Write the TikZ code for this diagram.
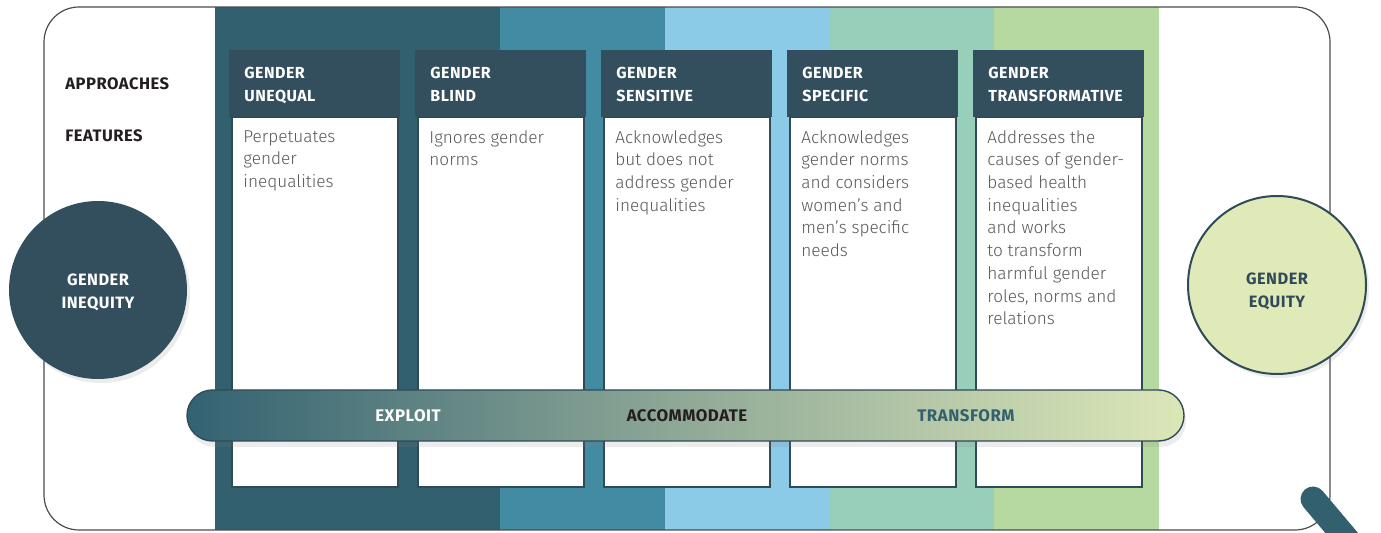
\documentclass[tikz,border=0pt]{standalone}
\usepackage{fontspec}
\setmainfont{Fira Sans}
\newfontfamily\headFont{Fira Sans}[LetterSpace=3]
\newfontfamily\featureFont{Fira Sans Light}
\usetikzlibrary{shadows}
\tikzstyle{pixelGrid} = [x = 0.5pt, y = -0.5pt]
\definecolor{bandDark}{RGB}{51,96,110}
\definecolor{bandTeal}{RGB}{67,139,163}
\definecolor{bandSky}{RGB}{139,203,231}
\definecolor{bandMint}{RGB}{152,207,186}
\definecolor{bandLeaf}{RGB}{182,217,160}
\definecolor{headerColor}{RGB}{51,78,92}
\definecolor{lineColor}{RGB}{47,75,88}
\definecolor{featureGray}{RGB}{88,89,91}
\definecolor{labelBlack}{RGB}{35,31,32}
\definecolor{equityFill}{RGB}{224,234,185}
\definecolor{barLeft}{RGB}{51,98,114}
\definecolor{barMid}{RGB}{144,169,151}
\definecolor{barRight}{RGB}{220,231,184}
\tikzstyle{frameStyle} = [draw=black!70, line width = .6pt, rounded corners = 17.5pt]
\tikzstyle{headerStyle} = [fill=headerColor]
\tikzstyle{featureBoxStyle} = [fill=white, draw=lineColor, line width = 1pt]
\tikzstyle{headerText} = [anchor=north west, inner sep=0, align=left, text=white, font=\headFont\bfseries\fontsize{8}{11.5}\selectfont]
\tikzstyle{featureText} = [anchor=north west, inner sep=0, align=left, text=featureGray, font=\featureFont\fontsize{8.6}{11.35}\selectfont]
\tikzstyle{rowLabel} = [anchor=west, inner sep=0, text=labelBlack, font=\headFont\bfseries\fontsize{8.3}{10}\selectfont]
\tikzstyle{stateCircle} = [circle, minimum size = 89pt, inner sep=0, drop shadow={shadow xshift=1.5pt, shadow yshift=-2pt, opacity=.15}]
\tikzstyle{circleText} = [inner sep=0, align=center, font=\headFont\bfseries\fontsize{8.2}{11.5}\selectfont]
\tikzstyle{barStyle} = [left color=barLeft, right color=barRight, middle color=barMid, draw=lineColor, line width = .7pt, rounded corners = 12.75pt, drop shadow={shadow xshift=1pt, shadow yshift=-3pt, opacity=.15}]
\tikzstyle{barText} = [inner sep=0, font=\headFont\bfseries\fontsize{8.4}{10}\selectfont]
\tikzstyle{handleStyle} = [draw=bandDark, line width = 12.5pt, line cap=round]
\newcommand{\approachColumn}[4]{
  \fill [headerStyle] (#2, 50) rectangle +(171, 67);
  \filldraw [featureBoxStyle] (#2 + 2.5, 117) rectangle (#2 + 169, 487);
  \node [headerText] (#1Header) at (#2 + 15, 67) {#3};
  \node [featureText] (#1Features) at (#2 + 14, 130) {#4};
}

\begin{document}
\begin{tikzpicture}[pixelGrid]
  \useasboundingbox (0,0) rectangle (1381,533);
  % frame and colour bands
  \fill [white, rounded corners = 17.5pt] (44,7) rectangle (1330,530);
  \foreach \bandColor/\from/\to in {bandDark/215/500, bandTeal/500/665, bandSky/665/830, bandMint/830/994, bandLeaf/994/1159} {
    \fill [\bandColor] (\from,7) rectangle (\to,530);
  }
  \draw [frameStyle] (44,7) rectangle (1330,530);

  \node [rowLabel] (approachesLabel) at (65,84) {APPROACHES};
  \node [rowLabel] (featuresLabel) at (65,136) {FEATURES};

  \approachColumn{unequal}{229}{GENDER\\UNEQUAL}{Perpetuates\\gender\\inequalities}
  \approachColumn{blind}{415}{GENDER\\BLIND}{Ignores gender\\norms}
  \approachColumn{sensitive}{601}{GENDER\\SENSITIVE}{Acknowledges\\but does not\\address gender\\inequalities}
  \approachColumn{specific}{787}{GENDER\\SPECIFIC}{Acknowledges\\gender norms\\and considers\\women’s and\\men’s specific\\needs}
  \approachColumn{transformative}{973}{GENDER\\TRANSFORMATIVE}{Addresses the\\causes of gender-\\based health\\inequalities\\and works\\to transform\\harmful gender\\roles, norms and\\relations}

  % both ends of the scale
  \node [stateCircle, fill=headerColor] (inequity) at (98,290) {};
  \node [circleText, text=white] (inequityText) at (98,292) {GENDER\\INEQUITY};
  \node [stateCircle, fill=equityFill, draw=lineColor, line width = 1pt] (equity) at (1277,285) {};
  \node [circleText, text=lineColor] (equityText) at (1277,291) {GENDER\\EQUITY};

  % the scale running underneath
  \path [barStyle] (187,390) rectangle (1184,441);
  \node [barText, text=white] (exploitLabel) at (408,416) {EXPLOIT};
  \node [barText, text=labelBlack] (accommodateLabel) at (687,416) {ACCOMMODATE};
  \node [barText, text=bandDark] (transformLabel) at (966,416) {TRANSFORM};

  \draw [handleStyle] (1313,499) -- (1356,550);
\end{tikzpicture}
\end{document}
